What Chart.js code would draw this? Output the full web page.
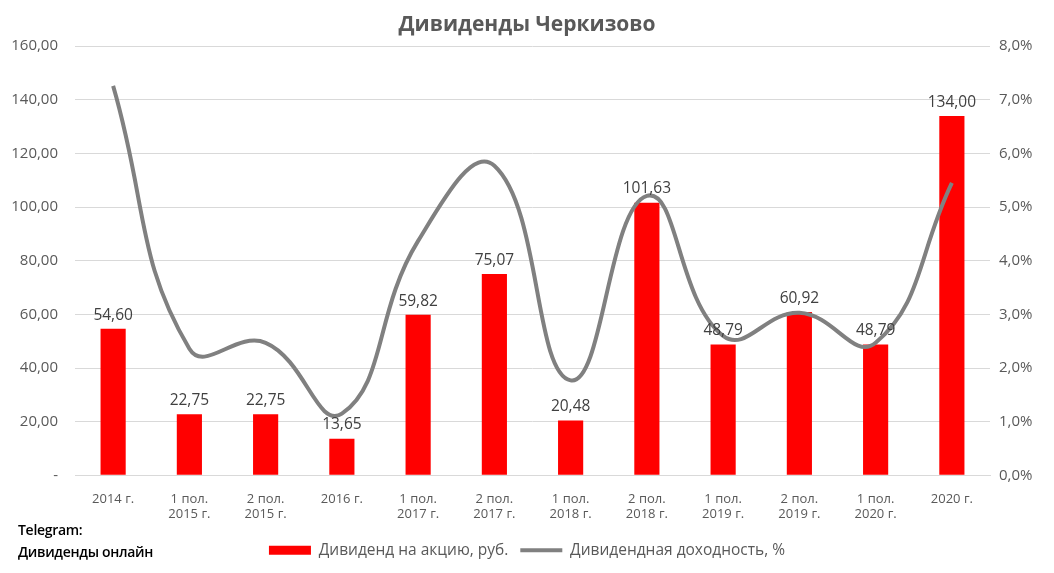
<!DOCTYPE html>
<html>
<head>
<meta charset="utf-8">
<script src="https://cdn.jsdelivr.net/npm/chart.js@4/dist/chart.umd.min.js"></script>
<style>
  html, body { margin: 0; padding: 0; background: #fff; }
  #wrap { position: relative; width: 1054px; height: 573px; }
  #tg { position: absolute; left: 18px; top: 519px; font-family: "Open Sans", sans-serif;
        font-size: 14px; line-height: 22px; color: #000; font-weight: 600; letter-spacing: -0.3px; }
</style>
</head>
<body>
<div id="wrap">
  <canvas id="grafico" width="1054" height="573"></canvas>
  <div id="tg">Telegram:<br>Дивиденды онлайн</div>
</div>
<script>
const periodos = [
  "2014 г.", ["1 пол.", "2015 г."], ["2 пол.", "2015 г."], "2016 г.",
  ["1 пол.", "2017 г."], ["2 пол.", "2017 г."], ["1 пол.", "2018 г."], ["2 пол.", "2018 г."],
  ["1 пол.", "2019 г."], ["2 пол.", "2019 г."], ["1 пол.", "2020 г."], "2020 г."
];
const dividendos = [54.60, 22.75, 22.75, 13.65, 59.82, 75.07, 20.48, 101.63, 48.79, 60.92, 48.79, 134.00];
const rentabilidad = [7.26, 2.36, 2.47, 1.15, 4.37, 5.77, 1.77, 5.21, 2.60, 3.03, 2.47, 5.45];

const fuente = "'Open Sans', sans-serif";
const coma = (v, d) => v.toFixed(d).replace(".", ",");

const etiquetasBarras = {
  id: "etiquetasBarras",
  afterDatasetsDraw(chart) {
    const ctx = chart.ctx;
    const meta = chart.getDatasetMeta(0);
    ctx.save();
    ctx.font = "15.5px " + fuente;
    ctx.fillStyle = "#404040";
    ctx.textAlign = "center";
    ctx.textBaseline = "bottom";
    meta.data.forEach((barra, i) => {
      ctx.fillText(coma(dividendos[i], 2), barra.x, barra.y - 6);
    });
    ctx.restore();
  }
};

new Chart(document.getElementById("grafico"), {
  type: "bar",
  data: {
    labels: periodos,
    datasets: [
      {
        type: "bar",
        label: "Дивиденд на акцию, руб.",
        data: dividendos,
        backgroundColor: "#ff0000",
        borderWidth: 0,
        barPercentage: 0.33,
        categoryPercentage: 1,
        yAxisID: "y",
        order: 2,
        pointStyle: "rect"
      },
      {
        type: "line",
        label: "Дивидендная доходность, %",
        data: rentabilidad,
        borderColor: "#808080",
        backgroundColor: "#808080",
        borderWidth: 4,
        pointRadius: 0,
        tension: 0.45,
        yAxisID: "y1",
        order: 1,
        pointStyle: "line"
      }
    ]
  },
  options: {
    responsive: false,
    animation: false,
    layout: { padding: { left: 0, right: 0, top: 8, bottom: 5 } },
    plugins: {
      title: {
        display: true,
        text: "Дивиденды Черкизово",
        color: "#595959",
        font: { family: fuente, size: 21, weight: "bold" },
        padding: { top: 4, bottom: 9 }
      },
      legend: {
        position: "bottom",
        labels: {
          usePointStyle: true,
          pointStyleWidth: 42,
          boxHeight: 9,
          color: "#595959",
          font: { family: fuente, size: 15.5 },
          padding: 12,
          sort: (a, b) => a.datasetIndex - b.datasetIndex
        }
      },
      tooltip: { enabled: false }
    },
    scales: {
      x: {
        grid: { display: false },
        border: { color: "#d9d9d9" },
        ticks: { color: "#595959", font: { family: fuente, size: 13 }, maxRotation: 0, autoSkip: false, padding: 8 }
      },
      y: {
        position: "left",
        min: 0, max: 160,
        ticks: {
          stepSize: 20,
          color: "#595959",
          font: { family: fuente, size: 15 },
          padding: 17,
          callback: v => v === 0 ? "-" : coma(v, 2)
        },
        grid: { color: "#d9d9d9", drawTicks: false },
        border: { display: false },
        afterFit: s => { s.width = 75; }
      },
      y1: {
        position: "right",
        min: 0, max: 8,
        ticks: {
          stepSize: 1,
          color: "#595959",
          font: { family: fuente, size: 15 },
          padding: 9,
          callback: v => coma(v, 1) + "%"
        },
        grid: { display: false, drawTicks: false },
        border: { display: false },
        afterFit: s => { s.width = 64; }
      }
    }
  },
  plugins: [etiquetasBarras]
});
</script>
</body>
</html>
